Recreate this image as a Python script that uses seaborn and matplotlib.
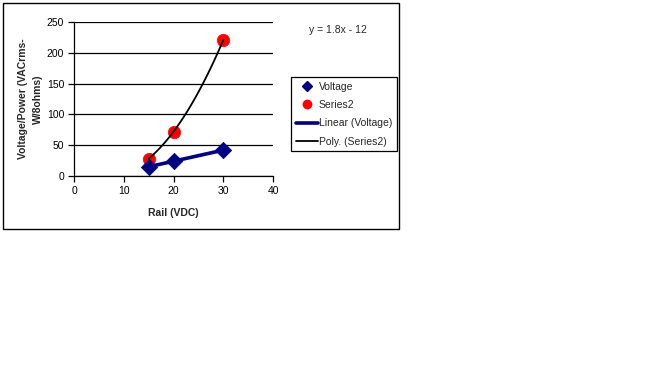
import numpy as np
import pandas as pd
import matplotlib
matplotlib.use('Agg')
import matplotlib.pyplot as plt
from matplotlib.lines import Line2D
from matplotlib.patches import Rectangle
import seaborn as sns

rail = [15, 20, 30]
voltage = [15, 24, 42]
series2 = [28.1, 72, 220.5]

sns.set_style('white')
plt.rcParams['font.family'] = ['Liberation Sans', 'DejaVu Sans']

W, H = 648, 392
fig = plt.figure(figsize=(W / 100, H / 100), dpi=100)
# outer chart border
fig.patches.append(Rectangle((3 / W, 1 - 229 / H), 396 / W, 226 / H, transform=fig.transFigure,
                             fill=False, edgecolor='black', linewidth=1))

ax = fig.add_axes([74 / W, 1 - 176 / H, 199 / W, 154 / H])

df = pd.DataFrame({'rail': rail, 'voltage': voltage, 'series2': series2})

# trendlines
m, b = np.polyfit(df['rail'], df['voltage'], 1)
xs = np.linspace(min(rail), max(rail), 60)
lin = pd.DataFrame({'x': xs, 'y': m * xs + b})
pc = np.polyfit(df['rail'], df['series2'], 2)
poly = pd.DataFrame({'x': xs, 'y': np.polyval(pc, xs)})

sns.scatterplot(data=df, x='rail', y='series2', ax=ax, marker='o', s=80, color='#ff0000',
                edgecolor='#ff0000', linewidth=0.5, zorder=3)
sns.lineplot(data=poly, x='x', y='y', ax=ax, color='black', linewidth=1.3, zorder=4)
sns.scatterplot(data=df, x='rail', y='voltage', ax=ax, marker='D', s=70, color='#000080',
                edgecolor='#000080', linewidth=0.5, zorder=3)
sns.lineplot(data=lin, x='x', y='y', ax=ax, color='#000080', linewidth=2.6, zorder=4)

ax.set_xlim(0, 40)
ax.set_ylim(0, 250)
ax.set_xticks([0, 10, 20, 30, 40])
ax.set_yticks([0, 50, 100, 150, 200, 250])
ax.yaxis.grid(True, color='black', linewidth=0.9)
ax.set_axisbelow(True)
for s in ['top', 'right']:
    ax.spines[s].set_visible(False)
for s in ['left', 'bottom']:
    ax.spines[s].set_color('black')
    ax.spines[s].set_linewidth(0.9)
ax.tick_params(axis='both', direction='out', length=4, width=0.9, colors='black',
               labelsize=7.5, pad=3, left=True, bottom=True)

ax.set_xlabel('Rail (VDC)', fontsize=7.5, fontweight='bold', labelpad=9)
ax.set_ylabel('Voltage/Power (VACrms-\nW/8ohms)', fontsize=7.5, fontweight='bold', labelpad=3,
              linespacing=1.6)

fig.text(338 / W, 1 - 30 / H, 'y = 1.8x - 12', fontsize=7.5, ha='center', va='center')

handles = [
    Line2D([], [], marker='D', color='#000080', linestyle='none', markersize=5),
    Line2D([], [], marker='o', color='#ff0000', linestyle='none', markersize=6),
    Line2D([], [], color='#000080', linewidth=2.6),
    Line2D([], [], color='black', linewidth=1.3),
]
labels = ['Voltage', 'Series2', 'Linear (Voltage)', 'Poly. (Series2)']
leg = fig.legend(handles, labels, loc='upper left', bbox_to_anchor=(291 / W, 1 - 77 / H),
                 bbox_transform=fig.transFigure, fontsize=7.5, frameon=True, fancybox=False,
                 edgecolor='black', framealpha=1, borderpad=0.45, handlelength=2.1,
                 handletextpad=0.1, labelspacing=0.8, borderaxespad=0)
leg.get_frame().set_linewidth(0.9)

fig.savefig('out.png', dpi=100)
